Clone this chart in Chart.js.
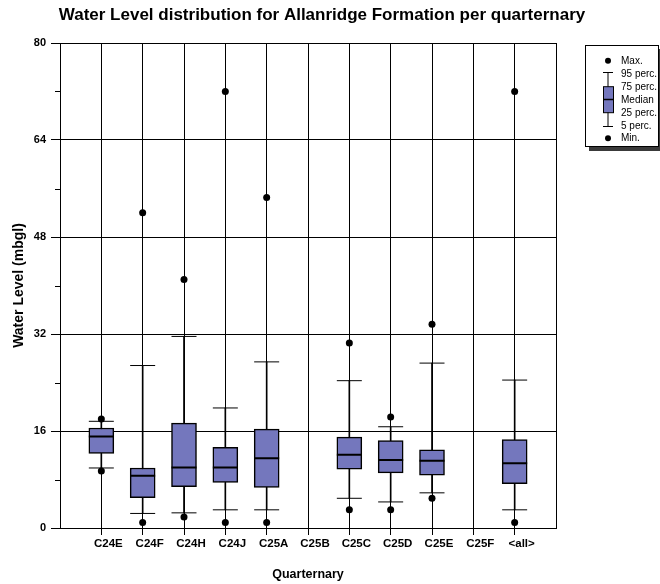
<!DOCTYPE html>
<html>
<head>
<meta charset="utf-8">
<script src="https://cdn.jsdelivr.net/npm/chart.js@4.4.1/dist/chart.umd.min.js"></script>
<style>
    body { margin: 0; background: #fff; font-family: "Liberation Sans", Arial, sans-serif; }
    #wrap { position: relative; width: 660px; height: 584px; }
    #legend {
        position: absolute; left: 585px; top: 45px; width: 72px; height: 100px;
        border: 1px solid #000; background: #fff; box-shadow: 4px 4px 0 #3a3a3a;
    }
    #legend svg { position: absolute; left: 0; top: 0; }
    #legend .labels {
        position: absolute; left: 35px; top: 9px;
        font-size: 10px; line-height: 12.9px; color: #000; white-space: nowrap;
    }
</style>
</head>
<body>
<div id="wrap">
    <canvas id="boxChart" width="660" height="584"></canvas>
    <div id="legend">
        <svg width="36" height="100">
            <circle cx="22" cy="14.7" r="3" fill="#000"/>
            <line x1="17" y1="26.5" x2="27" y2="26.5" stroke="#000" stroke-width="1"/>
            <line x1="22" y1="26.5" x2="22" y2="80.5" stroke="#000" stroke-width="1"/>
            <rect x="17.5" y="40.7" width="10" height="26" fill="#7477bd" stroke="#000" stroke-width="1"/>
            <line x1="17.5" y1="53.5" x2="27.5" y2="53.5" stroke="#000" stroke-width="1.5"/>
            <line x1="17" y1="80.5" x2="27" y2="80.5" stroke="#000" stroke-width="1"/>
            <circle cx="22" cy="92.3" r="3" fill="#000"/>
        </svg>
        <div class="labels">
            <div>Max.</div>
            <div>95 perc.</div>
            <div>75 perc.</div>
            <div>Median</div>
            <div>25 perc.</div>
            <div>5 perc.</div>
            <div>Min.</div>
        </div>
    </div>
</div>
<script>
// data
const categories = ['C24E', 'C24F', 'C24H', 'C24J', 'C25A', 'C25B', 'C25C', 'C25D', 'C25E', 'C25F', '<all>'];
const maxVals    = [18.0, 52.0, 41.0, 72.0, 54.5, null, 30.5, 18.3, 33.6, null, 72.0];
const p95Vals    = [17.6, 26.8, 31.6, 19.8, 27.4, null, 24.3, 16.7, 27.2, null, 24.4];
const q3Vals     = [16.5, 9.9, 17.3, 13.3, 16.3, null, 15.0, 14.4, 12.9, null, 14.6];
const medianVals = [15.1, 8.6, 10.0, 10.0, 11.5, null, 12.1, 11.2, 11.1, null, 10.7];
const q1Vals     = [12.3, 5.0, 6.8, 7.5, 6.7, null, 9.7, 9.1, 8.7, null, 7.3];
const p5Vals     = [9.9, 2.4, 2.5, 3.0, 3.0, null, 4.9, 4.3, 5.8, null, 3.0];
const minVals    = [9.4, 0.9, 1.8, 0.9, 0.9, null, 3.0, 3.0, 4.9, null, 0.9];
const yMax = 80;
const yStep = 16;

// empty slot at both ends so the frame lines sit one category away
const labels = ['', ...categories, ''];
const pad = arr => [null, ...arr, null];
const range = (lo, hi) => pad(lo.map((v, i) => (v == null ? null : [v, hi[i]])));

const boxFill = '#7477bd';
const boldFont = { family: '"Liberation Sans", Arial, sans-serif', weight: 'bold' };

const markLine = (data, width, order) => ({
    type: 'line', data: pad(data), showLine: false, order: order,
    pointStyle: 'line', pointRadius: 12.5, pointBorderWidth: width,
    pointBorderColor: '#000', borderColor: '#000'
});

const dots = data => ({
    type: 'line', data: pad(data), showLine: false, order: 0,
    pointStyle: 'circle', pointRadius: 3.5, pointBorderWidth: 0,
    pointBackgroundColor: '#000', borderColor: '#000'
});

// minor ticks halfway between the labelled ones
const minorTicks = {
    id: 'minorTicks',
    afterDraw(chart) {
        const y = chart.scales.y;
        const ctx = chart.ctx;
        ctx.save();
        ctx.strokeStyle = '#000';
        ctx.lineWidth = 1;
        for (let v = yStep / 2; v < yMax; v += yStep) {
            const py = Math.round(y.getPixelForValue(v)) + 0.5;
            ctx.beginPath();
            ctx.moveTo(y.right - 5, py);
            ctx.lineTo(y.right, py);
            ctx.stroke();
        }
        ctx.restore();
    }
};

new Chart(document.getElementById('boxChart'), {
    type: 'bar',
    data: {
        labels: labels,
        datasets: [
            {
                data: range(p5Vals, q1Vals), grouped: false, order: 5,
                barThickness: 1, backgroundColor: '#000', borderWidth: 0
            },
            {
                data: range(q3Vals, p95Vals), grouped: false, order: 5,
                barThickness: 1, backgroundColor: '#000', borderWidth: 0
            },
            {
                data: range(q1Vals, q3Vals), grouped: false, order: 4,
                barThickness: 25, backgroundColor: boxFill,
                borderColor: '#000', borderWidth: 1.5, borderSkipped: false
            },
            markLine(medianVals, 2, 1),
            markLine(p95Vals, 1, 2),
            markLine(p5Vals, 1, 2),
            dots(maxVals),
            dots(minVals)
        ]
    },
    options: {
        responsive: false,
        animation: false,
        events: [],
        layout: { padding: { left: 0, right: 16, top: 0, bottom: 0 } },
        plugins: {
            legend: { display: false },
            tooltip: { enabled: false },
            title: {
                display: true,
                text: 'Water Level distribution for Allanridge Formation per quarternary',
                color: '#000',
                font: { ...boldFont, size: 17 },
                padding: { top: 5, bottom: 17.6 }
            }
        },
        scales: {
            x: {
                type: 'category',
                offset: false,
                grid: {
                    offset: false,
                    color: '#000',
                    lineWidth: 1,
                    tickLength: 7,
                    tickColor: c => (c.index === 0 || c.index === labels.length - 1) ? 'rgba(0,0,0,0)' : '#000'
                },
                border: { color: '#000', width: 1 },
                ticks: {
                    autoSkip: false, maxRotation: 0, padding: 2, labelOffset: 7,
                    color: '#000', font: { ...boldFont, size: 11.5 }
                },
                title: {
                    display: true, text: 'Quarternary', color: '#000',
                    font: { ...boldFont, size: 12.5 },
                    padding: { top: 0, bottom: 2 }
                },
                afterFit: s => { s.height = 56; }
            },
            y: {
                min: 0,
                max: yMax,
                grid: { color: '#000', lineWidth: 1, tickLength: 9, tickColor: '#000' },
                border: { color: '#000', width: 1 },
                ticks: {
                    stepSize: yStep, padding: 5,
                    color: '#000', font: { ...boldFont, size: 11 }
                },
                title: {
                    display: true, text: 'Water Level (mbgl)', color: '#000',
                    font: { ...boldFont, size: 14 },
                    padding: { top: 10.5, bottom: 0 }
                },
                afterFit: s => { s.width = 60; }
            },
            // empty strip on the right that leaves room for the legend box
            side: {
                position: 'right',
                grid: { display: false },
                border: { display: false },
                ticks: { display: false },
                afterFit: s => { s.width = 88; }
            }
        }
    },
    plugins: [minorTicks]
});
</script>
</body>
</html>
